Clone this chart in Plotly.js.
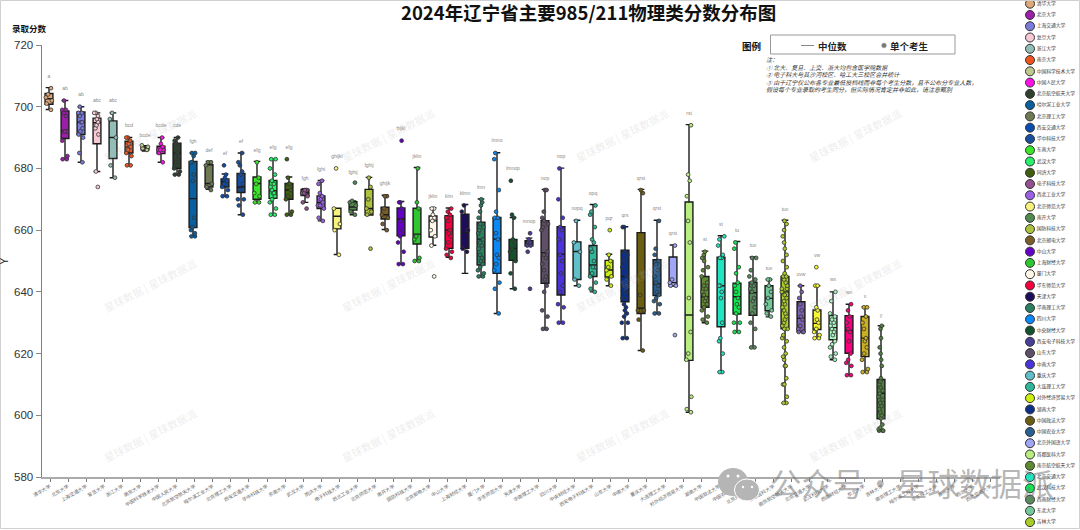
<!DOCTYPE html>
<html><head><meta charset="utf-8">
<script src="https://cdn.plot.ly/plotly-3.0.1.min.js"></script>
<style>html,body{margin:0;padding:0;background:#fff}#c{width:1080px;height:530px}</style></head>
<body><div id="c"></div>
<script>
const schools=["清华大学","北京大学","上海交通大学","复旦大学","浙江大学","南京大学","中国科学技术大学","中国人民大学","北京航空航天大学","哈尔滨工业大学","北京理工大学","西安交通大学","华中科技大学","东南大学","武汉大学","同济大学","电子科技大学","西北工业大学","北京师范大学","南开大学","国防科技大学","北京邮电大学","中山大学","上海财经大学","厦门大学","华东师范大学","天津大学","华南理工大学","四川大学","中央财经大学","西安电子科技大学","山东大学","中南大学","重庆大学","大连理工大学","对外经济贸易大学","湖南大学","中国政法大学","中国农业大学","北京外国语大学","首都医科大学","南京航空航天大学","北京交通大学","武汉科技大学","西南财经大学","东北大学","吉林大学","南京理工大学","哈尔滨工程大学","华东理工大学","苏州大学","西北大学","西南交通大学"];
const colors=["#E0A878","#9B1FA8","#7B7BDD","#F7C9D4","#93BEB8","#F0541E","#BDC98E","#FF10E8","#2F4030","#0A5FA0","#6F7A55","#0A4DB0","#1A4FA0","#3BE52A","#27F06A","#3F5E10","#93528F","#9B5FE8","#F5F27E","#4F8A4F","#ABC23F","#7A5E28","#6500C8","#2FC62F","#FFF7EA","#F5003F","#1E0E5A","#2A8060","#0A88F5","#14522E","#4A3F98","#5F5068","#4A33D8","#60BFC8","#2FB898","#CCEE11","#0A3088","#6B5E10","#2A6090","#A0A5F5","#B8EE80","#5F8A30","#20E5C0","#10E850","#5A8A5F","#72C89A","#AACC28","#7E60B0","#F8F830","#A8F5C0","#F8007E","#C8B020","#4F8040"];
const letters=["a","ab","ab","abc","abc","bcd","bcde","bcde","cde","fgh","def","ef","ef","efg","efg","efg","fgh","fghi","ghijkl","fghij","fghij","ghijk","hijkl","jklm","jklm","klm","klmn","lmn","lmno","lmnop","mnop","nop","nop","nopq","opq","pqr","qrs","qrst","qrst","qrst","rst","st","st","tu","tuv","tuv","tuv","uvw","vw","wx","wx","x","y"];
const letterY=[709.7,705.7,703.8,701.8,701.8,693.7,690.7,693.7,693.7,688.8,685.7,684.8,688.8,685.7,686.7,686.7,676.8,679.7,683.7,678.7,680.8,674.9,692.8,683.8,670.9,670.9,671.7,673.8,688.9,679.8,662.8,676.8,683.8,666.8,671.7,663.8,664.7,676.8,666.8,658.7,697.8,656.8,661.8,659.7,654.8,647.6,666.7,645.6,651.7,643.8,639.7,638.4,632.4];
const whiskerHigh=[706.2,702,700,698,698,690,687.4,690,690,685,682.3,678.2,685,682.3,683,677.2,673.4,676.1,667.1,669.5,677.1,671.3,669.3,680.3,667.3,667.2,668.3,670.1,685.1,664.1,657.4,673.2,680.1,663.2,668.3,652.2,661.1,673.2,663.2,655.2,694.2,653.2,658.2,656.3,651.3,644,663.2,642,642,640,636,635.2,629];
const q3=[704.3,698.6,698.3,696.3,695.4,688.8,686.9,687.2,688.2,682.3,681.2,676.6,678.4,677.2,676.1,675.1,673.2,671.1,667.1,669.2,673.2,667.4,667.2,667.1,664.6,664.7,665.2,662.6,664.1,657,656.6,663.1,661.1,656.2,655,650.2,653.5,659.2,650.4,651.3,669.1,645,651.2,642.8,643.1,642,645,636.8,634.1,632.3,632.3,632,611.6];
const medians=[702.6,692.2,695,694.8,690,687,686.5,686,685,670.2,675.1,675.7,674,675.1,672.8,673,672.1,669,664.5,667.5,667,665,663.6,658.7,663,660,659.3,657.1,657.1,654.1,656,652.7,652.2,653.1,648.7,647.1,645,634.7,642.6,643,632.5,638.4,642,638.4,639.7,637.9,640,631.4,629.8,628.4,627.5,625,607.1];
const q1=[700.8,689.7,691,688,683.2,685,686,684.8,680,660.8,674,674,672.2,670,670.3,670,671.2,667,660.4,666.5,664.9,663.6,658.2,655.5,657.8,654.1,654.1,648.7,646,650.2,654.9,642.8,639,644,645,644.8,636.8,633,638.8,641.9,617.8,635,628.7,632.8,632.4,633.9,628,627.1,627.8,624.5,620.1,619,598.9];
const whiskerLow=[699.1,683,682,679,677,681,685.6,682,678,658,673.2,671,665,669,665,665,669,663,652.1,665,664.9,660.2,649,650.1,655.1,651.2,646,644.9,633,641,654.9,628,630,642,640,642,625,621,633,641.9,601,630,614,627,622,631.9,604,627,625,618,613,614,595];
const p01=[706,704,703,702,701,699];
const p02=[702,699,699,698,697,692,692,692,689,684,683,683];
const p03=[700,698,698,697,695,695,693,692,691,690,685,682];
const p04=[698,698,697,696,695,694,693,691,679,674];
const p05=[698,696,690,681,677];
const p06=[690,690,689,688,687,686,685,684,681,681];
const p07=[687.5,687,686.5,686];
const p08=[690,688,687,686,686,686,685,682];
const p09=[690,689,688,685,685,684,682,680,679,678,678];
const p10=[685,685,684,682,682,678,676,664,661,660,659,658,658];
const p11=[682,682,681,675,674,673];
const p12=[681,678,677,676,675,674,673,671,671];
const p13=[685,682,681,679,678,675,673,670,670,668,665];
const p14=[682,677,675,672,671,669,669];
const p15=[683,683,680,678,676,675,674,673,672,672,671,670,669,667,665,665];
const p16=[683,677,675,675,673,671,670,666,665,665];
const p17=[673,673,672,672,671,669,667];
const p18=[676,675,672,671,670,669,668,668,667,664,663];
const p19=[680,667,662,660,652];
const p20=[675.4,669.5,669,668,666,665];
const p21=[677,674,670,667,666,665,654];
const p22=[671,671,667,665,664,662,660];
const p23=[689,669,669,667,663,660,658,656,653,649,649];
const p24=[680,669,667,658,657,651,650,650];
const p25=[667,667,665,664,663,660,658,655,645];
const p26=[667,666,665,664,663,660,659,658,656,654,653,652,651];
const p27=[668,666,660,654,653];
const p28=[670,669,668,666,664,662,661,660,659,657,656,655,654,652,651,650,649,648,647,646,645,645];
const p29=[685,683,673,666,664,664,659,657,652,651,649,647,643,641,633];
const p30=[676,664,665,657,656,654,653,650,646,641];
const p31=[659,657,656,656,655,655,653,641];
const p32=[673,673,666,664,663,662,661,660,653,652,651,649,647,645,644,642,640,634,632,628,628];
const p33=[680,670,664,661,660,657,652,650,646,642,640,636,635,630,630];
const p34=[663,656,653,644,642];
const p35=[668,666,665,661,657,656,654,653,650,648,648,646,645,643,641,640];
const p36=[660,652,650,648,647,645,644,642];
const p37=[661,661,653,652,650,648,645,642,640,638,636,635,634,633,632,630,630,625,625];
const p38=[673,672,639,634,634,631,621];
const p39=[663,654,652,650,649,647,645,643,642,640,639,638,637,636,633,633];
const p40=[655,644,643,642,642,626];
const p41=[694,678,676,671,663,656,638,627,620,618,606,602,601];
const p42=[653,652,651,650,648,647,645,643,642,641,640,639,638,637,636,635,634,632,631,630];
const p43=[658,657,655,652,651,651,642,642,640,638,630,625,624,620,614,614];
const p44=[656,654,648,646,643,642,640,638,636,635,633,630,630,627,627];
const p45=[651,651,647,645,644,643,642,641,640,638,637,635,633,630,628,622,622];
const p46=[644,644,642,640,638,636,634,633,632];
const p47=[663,662,660,658,656,654,652,650,648,646,645,645,644,643,642,641,641,640,640,639,638,637,636,635,634,633,632,631,630,629,628,628,626,625,624,622,620,619,618,616,616,612,610,610,606,604,604];
const p48=[642,640,638,636,634,632,631,629,628,627,627,627];
const p49=[648,642,642,635,634,631,630,628,627,626,625,625];
const p50=[640,637,633,632,631,630,629,628,627,626,624,623,622,620,619,618];
const p51=[636,634,632,630,628,627,624,620,618,617,616,613,613];
const p52=[635,635,632,630,628,625,624,622,620,618,615,614,614];
const p53=[629,628,625,622,620,618,616,612,611,610,609,608,607,606,605,604,603,602,601,600,599,597,596,595.5,595,595,595];
const points=[p01,p02,p03,p04,p05,p06,p07,p08,p09,p10,p11,p12,p13,p14,p15,p16,p17,p18,p19,p20,p21,p22,p23,p24,p25,p26,p27,p28,p29,p30,p31,p32,p33,p34,p35,p36,p37,p38,p39,p40,p41,p42,p43,p44,p45,p46,p47,p48,p49,p50,p51,p52,p53];
const notes=["注：","① 北大、复旦、上交、浙大均包含医学院数据","② 电子科大与其沙河校区、哈工大三校区合并统计","③ 由于辽宁仅公布各专业最低投档线而非每个考生分数，且不公布分专业人数，","假设每个专业录取的考生同分，但实际情况肯定并非如此，请注意甄别"];
const wmX=[150,388,622,855], wmY=[135,285,435];
const legendVisible=47;

const W=1080,H=530,FONT='"Liberation Sans","Noto Sans CJK SC",sans-serif',CJK='"Noto Sans CJK SC","Liberation Sans",sans-serif';
const fx=p=>p/W, fy=p=>1-p/H;
const idx=schools.map((_,i)=>i);
const legIdx=idx.slice(0,legendVisible);
const traces=[];
schools.forEach((s,i)=>{
  traces.push({type:'box',name:s,x:[i],y:[points[i]],q1:[q1[i]],median:[medians[i]],q3:[q3[i]],
    lowerfence:[whiskerLow[i]],upperfence:[whiskerHigh[i]],width:[10/16],boxpoints:'all',jitter:0.95,pointpos:0,
    whiskerwidth:0.85,fillcolor:colors[i],line:{color:'#1a1a1a',width:1.4},
    marker:{size:3.8,color:colors[i],line:{color:'#333',width:0.8}},showlegend:false,hoverinfo:'skip',xaxis:'x',yaxis:'y'});
});
traces.push({type:'scatter',mode:'text',x:idx,y:letterY,text:letters,textposition:'middle center',
  textfont:{size:5,color:'#888',family:FONT},showlegend:false,hoverinfo:'skip',xaxis:'x',yaxis:'y',cliponaxis:false});
traces.push({type:'scatter',mode:'markers',x:idx,y:idx.map(()=>580),marker:{opacity:0,size:1},showlegend:false,hoverinfo:'skip',xaxis:'x2',yaxis:'y'});
traces.push({type:'scatter',mode:'markers+text',x:legIdx.map(()=>6),y:legIdx,text:legIdx.map(i=>schools[i]),textposition:'middle right',
  marker:{size:9,color:legIdx.map(i=>colors[i]),line:{color:'#333',width:1}},textfont:{size:4.8,color:'#333',family:CJK},
  showlegend:false,hoverinfo:'skip',xaxis:'x3',yaxis:'y3',cliponaxis:true});

const anns=[
 {x:588,y:12,text:'<b>2024年辽宁省主要985/211物理类分数分布图</b>',size:18.5,color:'#111'},
 {x:29.5,y:28,text:'<b>录取分数</b>',size:8.5,color:'#111'},
 {x:751,y:46,text:'<b>图例</b>',size:9.5,color:'#111'},
 {x:832.5,y:45.5,text:'<b>中位数</b>',size:9.5,color:'#222'},
 {x:909,y:45.5,text:'<b>单个考生</b>',size:9.5,color:'#222'},
].map(a=>({xref:'paper',yref:'paper',x:fx(a.x),y:fy(a.y),text:a.text,showarrow:false,xanchor:'center',yanchor:'middle',
  font:{size:a.size,color:a.color,family:CJK}}));
anns.push({xref:'paper',yref:'paper',x:fx(3.5),y:fy(261),text:'Y',textangle:-90,showarrow:false,xanchor:'center',yanchor:'middle',font:{size:10,color:'#222',family:FONT}});
notes.forEach((t,i)=>anns.push({xref:'paper',yref:'paper',x:fx(764),y:fy(60+i*7.35),text:'<i>'+t+'</i>',showarrow:false,xanchor:'left',yanchor:'middle',font:{size:6,color:'#333',family:CJK}}));
wmX.forEach(x=>wmY.forEach(y=>anns.push({xref:'paper',yref:'paper',x:fx(x),y:fy(y),text:'星球数据 | 星球数据派',textangle:-27,showarrow:false,xanchor:'center',yanchor:'middle',font:{size:10.5,color:'rgba(180,180,180,0.25)',family:CJK}})));
anns.push({xref:'paper',yref:'paper',x:fx(768),y:fy(482),text:'公众号·星球数据派',showarrow:false,xanchor:'left',yanchor:'middle',font:{size:31.5,color:'rgba(120,120,120,0.55)',family:CJK}});

const rect=(x0,y0,x1,y1,o)=>Object.assign({type:'rect',xref:'paper',yref:'paper',x0:fx(x0),x1:fx(x1),y0:fy(y0),y1:fy(y1)},o);
const ell=(cx,cy,rx,ry,o)=>Object.assign({type:'circle',xref:'paper',yref:'paper',x0:fx(cx-rx),x1:fx(cx+rx),y0:fy(cy-ry),y1:fy(cy+ry)},o);
const shapes=[
 rect(0.5,0.5,1079.5,528.5,{line:{color:'#d0d0d0',width:1}}),
 rect(770.5,35,955,54,{line:{color:'#999',width:1}}),
 {type:'line',xref:'paper',yref:'paper',x0:fx(801),x1:fx(814),y0:fy(45.5),y1:fy(45.5),line:{color:'#888',width:1}},
 ell(884,45.5,2.4,2.4,{fillcolor:'#777',line:{color:'#aaa',width:0.6}}),
 ell(733,482,15,14,{fillcolor:'#b5b5b5',line:{width:0},layer:'above'}),
 ell(747,490,12.5,11,{fillcolor:'#b5b5b5',line:{color:'#fff',width:1},layer:'above'}),
 ell(728,476,1.5,1.5,{fillcolor:'#fff',line:{width:0},layer:'above'}),
 ell(738,476,1.5,1.5,{fillcolor:'#fff',line:{width:0},layer:'above'}),
 ell(743,487,1.2,1.2,{fillcolor:'#fff',line:{width:0},layer:'above'}),
 ell(752,487,1.2,1.2,{fillcolor:'#fff',line:{width:0},layer:'above'}),
];

const layout={width:W,height:H,margin:{l:0,r:0,t:0,b:0,pad:0},paper_bgcolor:'#fff',plot_bgcolor:'#fff',showlegend:false,boxmode:'overlay',
 xaxis:{domain:[fx(41.5),fx(1000)],range:[(41.5-49)/16,(1000-49)/16],visible:false,anchor:'y',fixedrange:true},
 xaxis2:{domain:[fx(41.5),fx(1000)],range:[(41.5-50)/18.09,(1000-50)/18.09],anchor:'y',side:'bottom',overlaying:'x',
   tickmode:'array',tickvals:idx,ticktext:schools,tickangle:-30,tickfont:{size:4.8,color:'#666',family:CJK},
   ticks:'outside',ticklen:3.5,tickwidth:0.8,tickcolor:'#555',showline:true,linecolor:'#aaa',linewidth:1.5,showgrid:false,zeroline:false,fixedrange:true},
 yaxis:{domain:[fy(477),fy(45)],range:[580,720],anchor:'x',tickvals:[580,600,620,640,660,680,700,720],ticks:'outside',ticklen:5,tickwidth:1,tickcolor:'#888',
   tickfont:{size:11.5,color:'#333',family:FONT},showline:true,linecolor:'#808080',linewidth:1,showgrid:false,zeroline:false,fixedrange:true},
 xaxis3:{domain:[fx(1024),1],range:[0,56],visible:false,anchor:'y3',fixedrange:true},
 yaxis3:{domain:[0,1],range:[(530-3.7)/11.27,-3.7/11.27],visible:false,anchor:'x3',fixedrange:true},
 annotations:anns,shapes:shapes};
Plotly.newPlot('c',traces,layout,{displayModeBar:false,staticPlot:true});
</script></body></html>
